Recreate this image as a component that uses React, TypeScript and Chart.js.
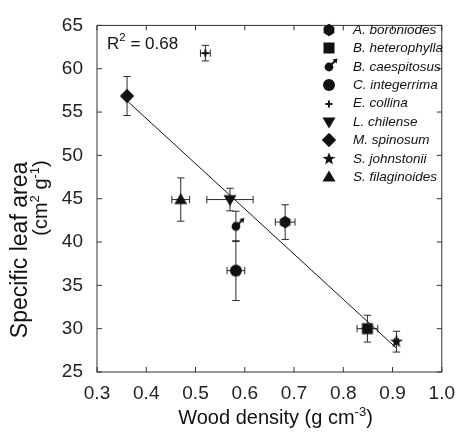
import React, { useEffect, useRef } from 'react';
import { Chart, registerables } from 'chart.js';

Chart.register(...registerables);

// ---------- data ----------
const species = [
  'A. boroniodes',
  'B. heterophylla',
  'B. caespitosus',
  'C. integerrima',
  'E. collina',
  'L. chilense',
  'M. spinosum',
  'S. johnstonii',
  'S. filaginoides',
];
const markerShapes = ['hexagon', 'square', 'male', 'circle', 'plus', 'triangleDown', 'diamond', 'star', 'triangle'];
const woodDensity = [0.682, 0.849, 0.582, 0.582, 0.52, 0.57, 0.361, 0.908, 0.47];
const woodDensityErr = [0.02, 0.021, 0.004, 0.018, 0.01, 0.047, 0.004, 0.004, 0.018];
const sla = [42.3, 30.0, 41.8, 36.7, 61.8, 44.9, 56.85, 28.5, 44.9];
const slaErr = [2.0, 1.55, 1.75, 3.45, 0.9, 1.3, 2.25, 1.2, 2.5];
const fitX = [0.361, 0.907];
const fitY = [56.3, 27.8];
const rSquaredText = '0.68';

const FONT = '"Liberation Sans", Arial, Helvetica, sans-serif';
const INK = '#111';

function makeMarker(shape: string): HTMLCanvasElement {
  const S = 26;
  const c = document.createElement('canvas');
  c.width = S;
  c.height = S;
  const ctx = c.getContext('2d')!;
  const m = S / 2;
  ctx.fillStyle = INK;
  ctx.strokeStyle = INK;
  ctx.beginPath();
  const poly = (pts: number[][]) => {
    ctx.moveTo(pts[0][0], pts[0][1]);
    for (let i = 1; i < pts.length; i++) ctx.lineTo(pts[i][0], pts[i][1]);
    ctx.closePath();
    ctx.fill();
  };
  if (shape === 'hexagon') {
    const r = 6.2;
    const pts: number[][] = [];
    for (let k = 0; k < 6; k++) {
      const a = (-90 + k * 60) * Math.PI / 180;
      pts.push([m + r * Math.cos(a), m + r * Math.sin(a)]);
    }
    poly(pts);
  } else if (shape === 'square') {
    ctx.fillRect(m - 5.5, m - 5.5, 11, 11);
  } else if (shape === 'circle') {
    ctx.arc(m, m, 6, 0, Math.PI * 2);
    ctx.fill();
  } else if (shape === 'plus') {
    ctx.lineWidth = 2;
    ctx.moveTo(m - 3.5, m);
    ctx.lineTo(m + 3.5, m);
    ctx.moveTo(m, m - 3.5);
    ctx.lineTo(m, m + 3.5);
    ctx.stroke();
  } else if (shape === 'triangleDown') {
    poly([[m - 6.5, m - 4.5], [m + 6.5, m - 4.5], [m, m + 6.5]]);
  } else if (shape === 'triangle') {
    poly([[m, m - 6.5], [m - 6.5, m + 4.5], [m + 6.5, m + 4.5]]);
  } else if (shape === 'diamond') {
    poly([[m, m - 7.2], [m + 7.2, m], [m, m + 7.2], [m - 7.2, m]]);
  } else if (shape === 'star') {
    const pts: number[][] = [];
    for (let k = 0; k < 10; k++) {
      const a = (-90 + k * 36) * Math.PI / 180;
      const r = k % 2 === 0 ? 6.7 : 2.8;
      pts.push([m + r * Math.cos(a), m + r * Math.sin(a)]);
    }
    poly(pts);
  } else if (shape === 'male') {
    ctx.arc(m, m, 4.4, 0, Math.PI * 2);
    ctx.fill();
    ctx.beginPath();
    ctx.lineWidth = 1.8;
    ctx.moveTo(m, m);
    ctx.lineTo(m + 6, m - 6);
    ctx.stroke();
    ctx.beginPath();
    poly([[m + 8.5, m - 8.5], [m + 3.5, m - 7.5], [m + 7.5, m - 3.5]]);
  }
  return c;
}

type Part = { t: string; sup?: boolean };
function richWidth(ctx: CanvasRenderingContext2D, parts: Part[], size: number, supSize: number) {
  let w = 0;
  for (const p of parts) {
    ctx.font = `${p.sup ? supSize : size}px ${FONT}`;
    w += ctx.measureText(p.t).width;
  }
  return w;
}
function drawRich(ctx: CanvasRenderingContext2D, parts: Part[], x: number, y: number, size: number, supSize: number, align: 'left' | 'center') {
  const total = richWidth(ctx, parts, size, supSize);
  let cx = align === 'center' ? x - total / 2 : x;
  ctx.textAlign = 'left';
  ctx.textBaseline = 'alphabetic';
  for (const p of parts) {
    ctx.font = `${p.sup ? supSize : size}px ${FONT}`;
    ctx.fillText(p.t, cx, p.sup ? y - size * 0.42 : y);
    cx += ctx.measureText(p.t).width;
  }
}

export default function App() {
  const ref = useRef<HTMLCanvasElement | null>(null);

  useEffect(() => {
    document.body.style.margin = '0';
    const canvas = ref.current!;
    const markers = markerShapes.map(makeMarker);

    const pointSets = species.map((name, i) => ({
      type: 'scatter' as const,
      label: name,
      data: [{ x: woodDensity[i], y: sla[i] }],
      pointStyle: markers[i],
      pointRadius: 6,
      pointHoverRadius: 6,
      backgroundColor: INK,
      borderColor: INK,
    }));

    const fitSet = {
      type: 'line' as const,
      label: 'fit',
      data: fitX.map((x, i) => ({ x, y: fitY[i] })),
      borderColor: '#111',
      borderWidth: 1,
      pointRadius: 0,
      fill: false,
    };

    const errorBars = {
      id: 'errorBars',
      beforeDatasetsDraw(chart: any) {
        const { ctx, scales } = chart;
        const xs = scales.x;
        const ys = scales.y;
        ctx.save();
        ctx.strokeStyle = '#2a2a2a';
        ctx.lineWidth = 1;
        const cap = 3.7;
        for (let i = 0; i < species.length; i++) {
          const px = xs.getPixelForValue(woodDensity[i]);
          const py = ys.getPixelForValue(sla[i]);
          const yTop = ys.getPixelForValue(sla[i] + slaErr[i]);
          const yBot = ys.getPixelForValue(sla[i] - slaErr[i]);
          const xL = xs.getPixelForValue(woodDensity[i] - woodDensityErr[i]);
          const xR = xs.getPixelForValue(woodDensity[i] + woodDensityErr[i]);
          ctx.beginPath();
          ctx.moveTo(px, yTop);
          ctx.lineTo(px, yBot);
          ctx.moveTo(px - cap, yTop);
          ctx.lineTo(px + cap, yTop);
          ctx.moveTo(px - cap, yBot);
          ctx.lineTo(px + cap, yBot);
          ctx.moveTo(xL, py);
          ctx.lineTo(xR, py);
          ctx.moveTo(xL, py - cap);
          ctx.lineTo(xL, py + cap);
          ctx.moveTo(xR, py - cap);
          ctx.lineTo(xR, py + cap);
          ctx.stroke();
        }
        ctx.restore();
      },
    };

    const frame = {
      id: 'frameAndText',
      afterDraw(chart: any) {
        const { ctx, chartArea, scales } = chart;
        const { left, right, top, bottom } = chartArea;
        ctx.save();
        // box
        ctx.strokeStyle = '#333';
        ctx.lineWidth = 1;
        ctx.strokeRect(left, top, right - left, bottom - top);
        // inward ticks
        const tl = 5;
        ctx.beginPath();
        scales.x.ticks.forEach((t: any) => {
          const px = scales.x.getPixelForValue(t.value);
          ctx.moveTo(px, bottom);
          ctx.lineTo(px, bottom - tl);
          ctx.moveTo(px, top);
          ctx.lineTo(px, top + tl);
        });
        scales.y.ticks.forEach((t: any) => {
          const py = scales.y.getPixelForValue(t.value);
          ctx.moveTo(left, py);
          ctx.lineTo(left + tl, py);
          ctx.moveTo(right, py);
          ctx.lineTo(right - tl, py);
        });
        ctx.stroke();

        ctx.fillStyle = INK;
        // R^2
        drawRich(ctx, [{ t: 'R' }, { t: '2', sup: true }, { t: ' = ' + rSquaredText }], left + 10, 48.5, 17, 11.5, 'left');

        // x title
        drawRich(ctx, [{ t: 'Wood density (g cm' }, { t: '-3', sup: true }, { t: ')' }], 275.5, 424, 20, 13, 'center');

        // y title
        ctx.save();
        ctx.translate(27, 250);
        ctx.rotate(-Math.PI / 2);
        drawRich(ctx, [{ t: 'Specific leaf area' }], 0, 0, 23, 13, 'center');
        ctx.restore();
        ctx.save();
        ctx.translate(47, 198);
        ctx.rotate(-Math.PI / 2);
        drawRich(ctx, [{ t: '(cm' }, { t: '2', sup: true }, { t: ' g' }, { t: '-1', sup: true }, { t: ')' }], 0, 0, 20, 13, 'center');
        ctx.restore();

        // legend
        ctx.font = `italic 13.5px ${FONT}`;
        ctx.textAlign = 'left';
        ctx.textBaseline = 'middle';
        for (let i = 0; i < species.length; i++) {
          const ly = 30 + i * 18.4;
          const mk = markers[i];
          ctx.drawImage(mk, Math.round(329 - mk.width / 2), Math.round(ly - mk.height / 2));
          ctx.fillText(species[i], 353, ly);
        }
        ctx.restore();
      },
    };

    const chart = new Chart(canvas, {
      type: 'scatter',
      data: { datasets: [...pointSets, fitSet] as any },
      options: {
        animation: false,
        responsive: false,
        devicePixelRatio: 1,
        layout: { padding: { top: 19, right: 17, left: 0, bottom: 0 } },
        plugins: { legend: { display: false }, tooltip: { enabled: false } },
        scales: {
          x: {
            type: 'linear',
            min: 0.3,
            max: 1.0,
            afterFit: (s: any) => { s.height = 66; },
            grid: { display: false, drawTicks: false },
            border: { display: false },
            ticks: {
              stepSize: 0.1,
              padding: 10,
              color: '#222',
              font: { size: 19, family: FONT },
              callback: (v: any) => Number(v).toFixed(1),
            },
          },
          y: {
            type: 'linear',
            min: 25,
            max: 65,
            afterFit: (s: any) => { s.width = 97; },
            grid: { display: false, drawTicks: false },
            border: { display: false },
            ticks: {
              stepSize: 5,
              padding: 14,
              color: '#222',
              font: { size: 19, family: FONT },
            },
          },
        },
      } as any,
      plugins: [errorBars, frame],
    });

    return () => chart.destroy();
  }, []);

  return (
    <div style={{ width: 465, height: 438 }}>
      <canvas ref={ref} width={465} height={438} style={{ display: 'block' }} />
    </div>
  );
}
